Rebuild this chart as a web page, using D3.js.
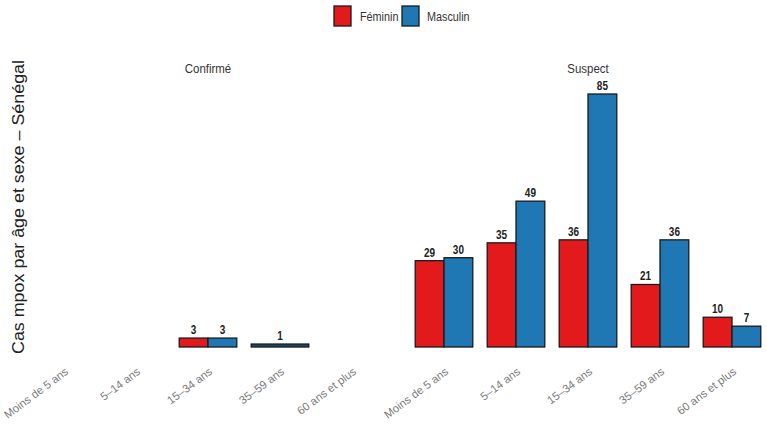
<!DOCTYPE html>
<html><head><meta charset="utf-8">
<script src="https://cdn.jsdelivr.net/npm/d3@7"></script>
<style>
html,body{margin:0;padding:0;background:#fff;}
svg{display:block;}
</style></head>
<body>
<script>
const ageGroups = ["Moins de 5 ans", "5–14 ans", "15–34 ans", "35–59 ans", "60 ans et plus"];
const sexes = ["Féminin", "Masculin"];
const panels = ["Confirmé", "Suspect"];
const confirmeFeminin = [null, null, 3, null, null];
const confirmeMasculin = [null, null, 3, 1, null];
const suspectFeminin = [29, 35, 36, 21, 10];
const suspectMasculin = [30, 49, 85, 36, 7];
const colors = {"Féminin": "#e31a1c", "Masculin": "#1f78b4"};
const yTitle = "Cas mpox par âge et sexe – Sénégal";

const W = 767, H = 429;
const svg = d3.select("body").append("svg").attr("width", W).attr("height", H);
const sans = "'Liberation Sans', Arial, sans-serif";

function narrowText(sel, x, y, sx) {
  return sel.append("text").attr("transform", `translate(${x},${y}) scale(${sx},1)`)
    .attr("font-family", sans);
}

const panelData = [
  {name: panels[0], F: confirmeFeminin, M: confirmeMasculin, range: [28, 388]},
  {name: panels[1], F: suspectFeminin, M: suspectMasculin, range: [408, 768]}
];

const y = d3.scaleLinear().domain([0, 85]).range([347, 94]);

panelData.forEach(p => {
  const x = d3.scaleBand().domain(ageGroups).range(p.range).paddingInner(0.2).paddingOuter(0.1);
  const xs = d3.scaleBand().domain(sexes).range([0, x.bandwidth()]);
  const g = svg.append("g");
  narrowText(g, (p.range[0] + p.range[1]) / 2, 73, 0.88)
    .attr("text-anchor", "middle").attr("font-size", 13)
    .attr("fill", "#333").text(p.name);
  ageGroups.forEach((a, i) => {
    const vals = [{s: sexes[0], v: p.F[i]}, {s: sexes[1], v: p.M[i]}].filter(d => d.v != null);
    vals.forEach(d => {
      const single = vals.length === 1;
      const bx = single ? x(a) : x(a) + xs(d.s);
      const bw = single ? x.bandwidth() : xs.bandwidth();
      g.append("rect").attr("x", bx).attr("y", y(d.v)).attr("width", bw)
        .attr("height", y(0) - y(d.v)).attr("fill", single ? "#1b4a6b" : colors[d.s])
        .attr("stroke", "#1a1a1a").attr("stroke-width", 1.3);
      narrowText(g, bx + bw / 2, y(d.v) - 4, 0.8)
        .attr("text-anchor", "middle").attr("font-weight", "bold")
        .attr("font-size", 12.5).attr("fill", "#222").text(d.v);
    });
    const cx = x(a) + x.bandwidth() / 2 + 5;
    g.append("text").attr("transform", `translate(${cx},${373}) rotate(-37)`)
      .attr("text-anchor", "end").attr("font-family", sans).attr("font-size", 11.3)
      .attr("fill", "#7a7a7a").text(a);
  });
});

svg.append("text").attr("transform", `translate(24,${207}) rotate(-90)`)
  .attr("text-anchor", "middle").attr("font-family", sans).attr("font-size", 16.5)
  .attr("textLength", 294).attr("lengthAdjust", "spacingAndGlyphs")
  .attr("fill", "#222").text(yTitle);

const leg = svg.append("g");
const legItems = [{s: sexes[0], x: 334, tx: 360}, {s: sexes[1], x: 402, tx: 427}];
legItems.forEach(it => {
  leg.append("rect").attr("x", it.x).attr("y", 6).attr("width", 17).attr("height", 20)
    .attr("fill", colors[it.s]).attr("stroke", "#1a1a1a").attr("stroke-width", 1.3);
  narrowText(leg, it.tx, 21, 0.8).attr("font-size", 13.5).attr("fill", "#333").text(it.s);
});
</script>
</body></html>
